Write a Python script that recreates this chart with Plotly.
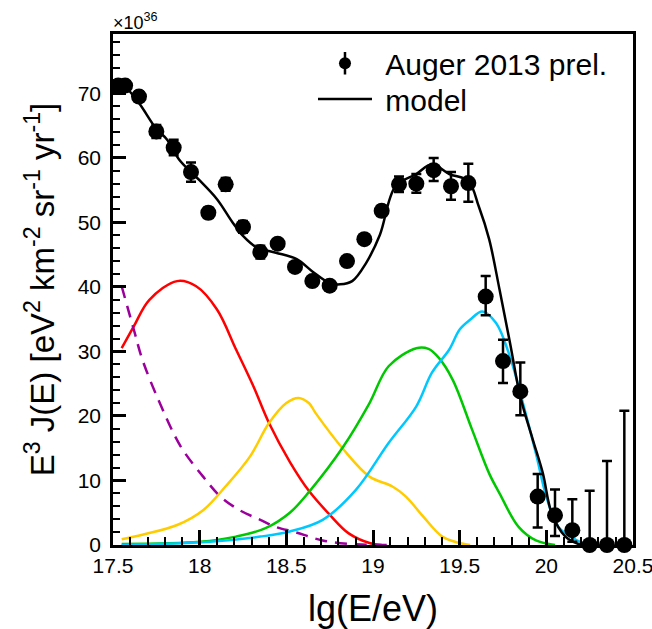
import plotly.graph_objects as go

# ---- data ----
lgE = [17.53, 17.57, 17.65, 17.75, 17.85, 17.95, 18.05, 18.15, 18.25, 18.35, 18.45,
       18.55, 18.65, 18.75, 18.85, 18.95, 19.05, 19.15, 19.25, 19.35, 19.45, 19.55,
       19.65, 19.75, 19.85, 19.95, 20.05, 20.15, 20.25, 20.35, 20.45]
flux = [71.2, 71.2, 69.5, 64.1, 61.6, 57.8, 51.5, 55.9, 49.3, 45.4, 46.7,
        43.1, 40.9, 40.2, 44.0, 47.4, 51.8, 55.9, 56.0, 58.1, 55.6, 56.1,
        38.5, 28.5, 23.8, 7.5, 4.6, 2.3, 0.0, 0.0, 0.0]
err_up = [0.6, 0.6, 0.8, 1.0, 1.2, 1.5, 0.8, 1.0, 0.9, 1.0, 0.6,
          0.6, 0.6, 0.6, 0.6, 0.7, 0.8, 1.2, 1.5, 1.9, 2.2, 3.0,
          3.2, 3.3, 4.5, 3.5, 4.0, 4.8, 8.4, 13.0, 20.8]
err_dn = [0.6, 0.6, 0.8, 1.0, 1.2, 1.5, 0.8, 1.0, 0.9, 1.0, 0.6,
          0.6, 0.6, 0.6, 0.6, 0.7, 0.8, 1.2, 1.4, 1.7, 2.1, 2.9,
          2.9, 3.4, 3.7, 4.8, 3.2, 1.8, 0.0, 0.0, 0.0]

model_x = [17.55, 17.65, 17.75, 17.81, 17.88, 17.95, 18.0, 18.10, 18.19, 18.25, 18.33,
           18.44, 18.56, 18.65, 18.75, 18.81, 18.88, 18.96, 19.04, 19.13, 19.25,
           19.34, 19.44, 19.55, 19.61, 19.67, 19.73, 19.79, 19.85, 19.92, 19.98,
           20.03, 20.11, 20.2]
model_y = [71.8, 68.5, 64.5, 62.9, 59.8, 57.8, 56.5, 53.6, 50.0, 47.9, 46.1,
           45.3, 44.3, 42.4, 40.6, 40.4, 40.9, 43.7, 48.1, 55.6, 57.5,
           59.0, 57.5, 56.4, 52.5, 47.4, 39.6, 31.4, 23.0, 16.5, 11.1,
           5.0, 1.3, 0.0]

red_x = [17.55, 17.62, 17.71, 17.87, 17.98, 18.10, 18.21, 18.31, 18.40, 18.52, 18.63,
         18.75, 18.86, 18.98, 19.05]
red_y = [30.5, 33.9, 38.0, 40.9, 40.1, 36.5, 30.3, 24.6, 18.9, 12.9, 8.4,
         4.7, 1.8, 0.3, 0.0]

purple_x = [17.55, 17.62, 17.67, 17.77, 17.89, 18.02, 18.12, 18.23, 18.35, 18.44,
            18.55, 18.71, 18.9, 19.1]
purple_y = [40.1, 33.4, 28.7, 22.0, 15.3, 10.6, 7.5, 5.4, 3.9, 2.8,
            2.0, 0.7, 0.1, 0.0]

yellow_x = [17.55, 17.67, 17.87, 18.02, 18.15, 18.29, 18.40, 18.50, 18.57, 18.63,
            18.67, 18.83, 18.98, 19.11, 19.19, 19.29, 19.40, 19.50, 19.56]
yellow_y = [0.9, 1.6, 3.1, 5.4, 9.1, 13.7, 18.9, 22.0, 22.8, 22.0,
            20.4, 14.8, 10.6, 9.1, 7.5, 4.4, 1.3, 0.3, 0.0]

green_x = [17.55, 18.0, 18.21, 18.38, 18.52, 18.63, 18.83, 18.98, 19.09, 19.25,
           19.32, 19.38, 19.46, 19.57, 19.67, 19.73, 19.84, 19.94, 20.05]
green_y = [0.15, 0.5, 1.3, 2.6, 5.0, 8.2, 15.3, 22.0, 27.7, 30.5,
           30.4, 29.0, 25.6, 18.0, 11.1, 8.0, 2.8, 0.7, 0.0]

cyan_x = [17.55, 18.06, 18.35, 18.52, 18.71, 18.90, 19.09, 19.25, 19.34, 19.44,
          19.50, 19.56, 19.63, 19.71, 19.79, 19.86, 19.94, 20.0, 20.07, 20.17, 20.25]
cyan_y = [0.0, 0.5, 1.3, 2.1, 3.9, 8.5, 15.8, 21.5, 26.7, 30.3,
          33.4, 34.9, 36.2, 34.4, 29.2, 22.5, 14.2, 7.5, 2.8, 0.8, 0.0]

x_ticks = [17.5, 18, 18.5, 19, 19.5, 20, 20.5]
x_ticklabels = ["17.5", "18", "18.5", "19", "19.5", "20", "20.5"]
y_ticks = [0, 10, 20, 30, 40, 50, 60, 70]

FONT = "Liberation Sans, Arial, Helvetica, sans-serif"
LW = 2.5

fig = go.Figure()

def comp(x, y, color, dash=None):
    fig.add_trace(go.Scatter(x=x, y=y, mode="lines", showlegend=False,
                             line=dict(color=color, width=LW, shape="spline",
                                       smoothing=1.0, dash=dash),
                             hoverinfo="skip"))

comp(red_x, red_y, "#ff0000")
comp(purple_x, purple_y, "#9c009c", dash="12px,8px")
comp(yellow_x, yellow_y, "#ffcc00")
comp(green_x, green_y, "#00c800")
comp(cyan_x, cyan_y, "#00c8ff")

# data points (legend glyph drawn by two legend-only entries below)
fig.add_trace(go.Scatter(x=lgE, y=flux, mode="markers", name="Auger 2013 prel.",
                         showlegend=False,
                         marker=dict(color="black", size=16, symbol="circle"),
                         error_y=dict(type="data", symmetric=False, array=err_up,
                                      arrayminus=err_dn, color="black",
                                      thickness=2.5, width=5),
                         cliponaxis=False))
fig.add_trace(go.Scatter(x=[None], y=[None], mode="markers", name="\u00a0Auger 2013 prel.",
                         legend="legend",
                         marker=dict(color="black", size=12, symbol="circle")))
fig.add_trace(go.Scatter(x=[None], y=[None], mode="markers", name="\u00a0",
                         legend="legend3",
                         marker=dict(color="black", size=16, symbol="line-ns",
                                     line=dict(color="black", width=2.5))))
fig.add_trace(go.Scatter(x=model_x, y=model_y, mode="lines", name="\u00a0model",
                         legend="legend2",
                         line=dict(color="black", width=LW, shape="spline", smoothing=1.0)))

leg_common = dict(x=0.3846, xanchor="left", yanchor="middle",
                  font=dict(size=30, family=FONT, color="black"), itemwidth=54,
                  bgcolor="rgba(0,0,0,0)")

fig.update_layout(
    width=652, height=629,
    margin=dict(l=113, r=19, t=34, b=84, autoexpand=False),
    paper_bgcolor="white", plot_bgcolor="white",
    font=dict(family=FONT, color="black", size=21),
    legend=dict(y=0.9427, **leg_common),
    legend3=dict(y=0.9427, **leg_common),
    legend2=dict(y=0.8728, **leg_common),
    xaxis=dict(range=[17.5, 20.5], tickvals=x_ticks, ticktext=x_ticklabels,
               ticks="inside", ticklen=15, tickwidth=2.5, tickcolor="black",
               showline=True, linecolor="black", linewidth=2.5, mirror=True,
               showgrid=False, zeroline=False, ticklabeloverflow="allow",
               automargin=False, tickfont=dict(size=21),
               minor=dict(dtick=0.1, ticks="inside", ticklen=8, tickwidth=2,
                          tickcolor="black", showgrid=False),
               title=dict(text="lg(E/eV)", font=dict(size=36), standoff=21)),
    yaxis=dict(range=[0, 79.2], tickvals=y_ticks,
               ticks="inside", ticklen=13, tickwidth=2.5, tickcolor="black",
               showline=True, linecolor="black", linewidth=2.5, mirror=True,
               showgrid=False, zeroline=False, ticklabeloverflow="allow",
               automargin=False, tickfont=dict(size=21), ticklabelstandoff=5,
               minor=dict(dtick=2, ticks="inside", ticklen=7, tickwidth=2,
                          tickcolor="black", showgrid=False),
               title=dict(text="E<sup>3</sup> J(E) [eV<sup>2</sup> km<sup>-2</sup> sr<sup>-1</sup> yr<sup>-1</sup>]",
                          font=dict(size=33), standoff=14)),
    annotations=[dict(text="×10<sup>36</sup>", xref="paper", yref="paper",
                      x=0, y=1, xanchor="left", yanchor="bottom", showarrow=False,
                      font=dict(size=18, family=FONT), xshift=-2, yshift=-1)],
)

fig.write_html("out.html")
